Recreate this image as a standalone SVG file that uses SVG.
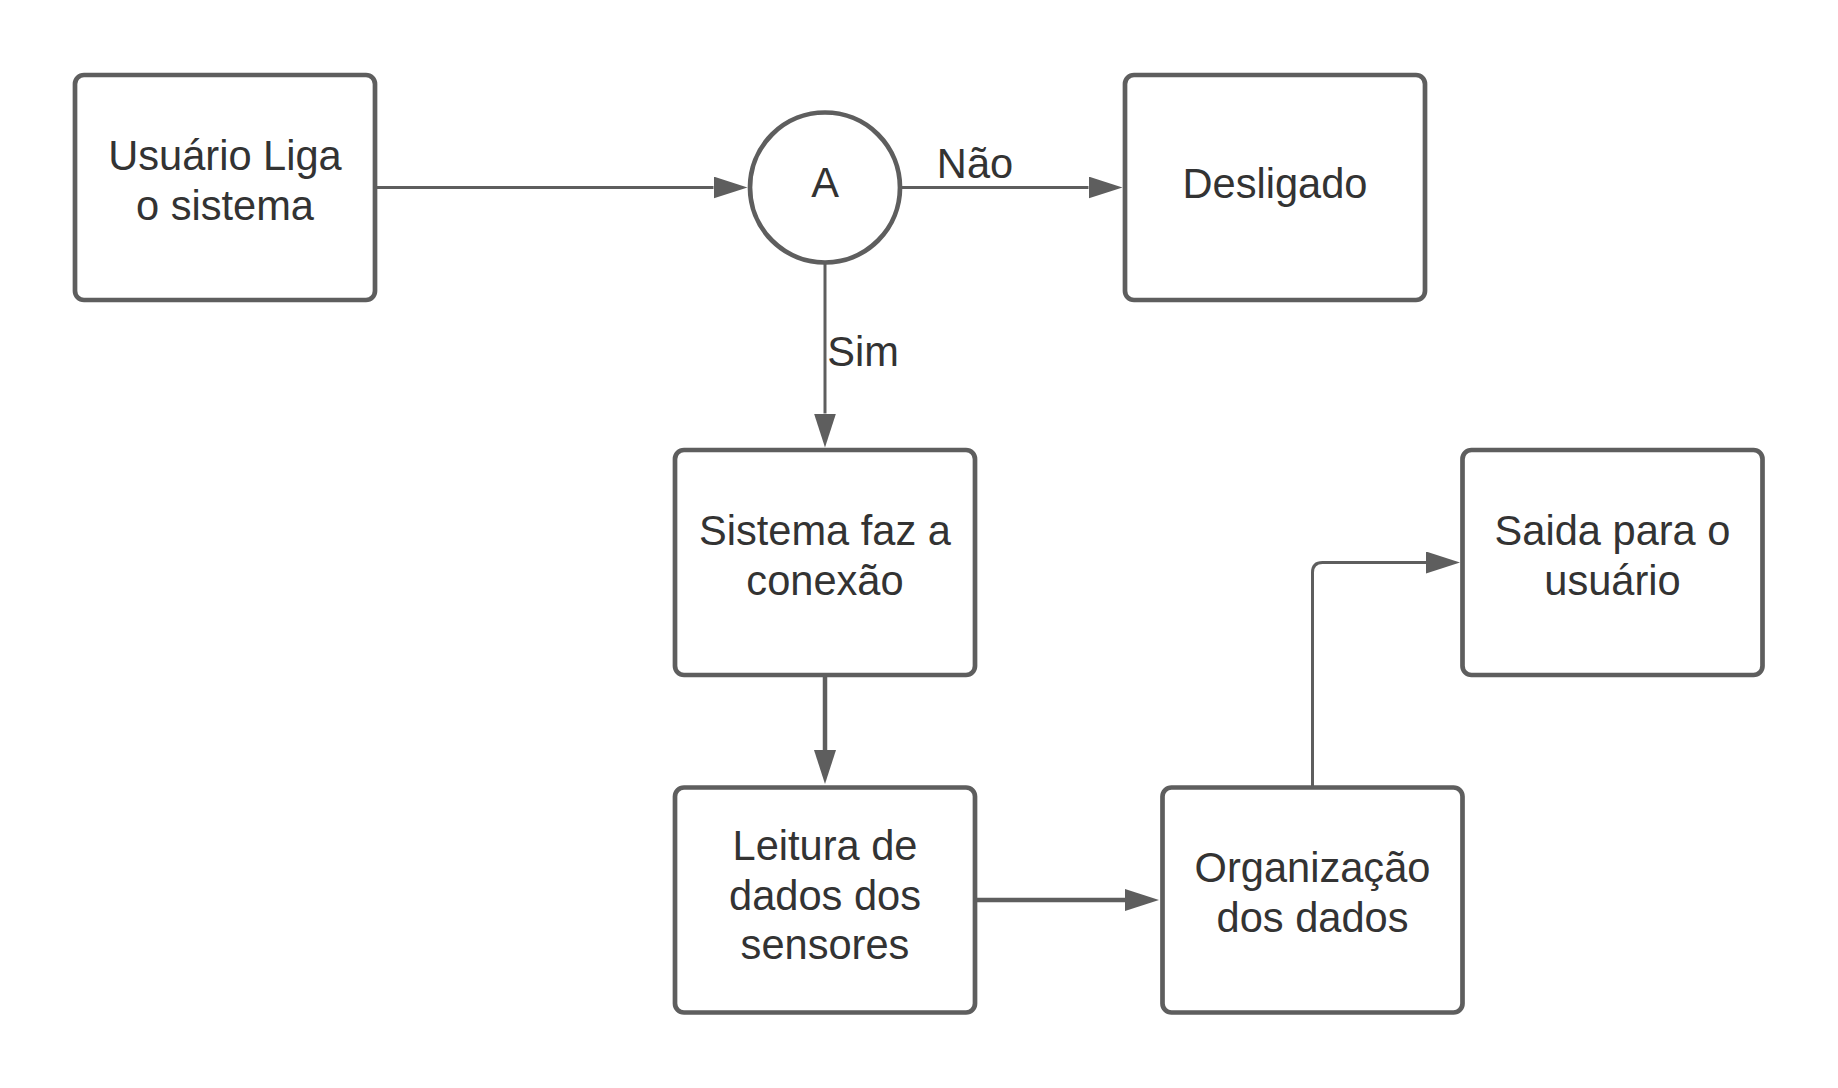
<svg xmlns="http://www.w3.org/2000/svg" width="1838" height="1088" viewBox="0 0 1838 1088">
  <style>
    .box { fill: #ffffff; stroke: #5e5e5e; stroke-width: 4.7; }
    .lbl { font-family: "Liberation Sans", Arial, sans-serif; font-size: 41.6px; fill: #333333; text-anchor: middle; }
    .edge { fill: none; stroke: #5e5e5e; stroke-width: 3; }
    .thick { stroke-width: 4.5; }
  </style>
  <defs>
    <marker id="arrow" markerUnits="userSpaceOnUse" markerWidth="36" markerHeight="24" refX="0" refY="11" orient="auto">
      <path d="M0,0 L34,11 L0,22 Z" fill="#5e5e5e"/>
    </marker>
  </defs>
  <rect width="1838" height="1088" fill="#ffffff"/>

  <g id="connectors">
    <path class="edge" d="M375,187.5 H713.5" marker-end="url(#arrow)"/>
    <path class="edge" d="M900,187.5 H1088.5" marker-end="url(#arrow)"/>
    <path class="edge" d="M825,262.5 V413.5" marker-end="url(#arrow)"/>
    <path class="edge thick" d="M825,675 V750" marker-end="url(#arrow)"/>
    <path class="edge thick" d="M975,900 H1125" marker-end="url(#arrow)"/>
    <path class="edge" d="M1312.5,787.5 V572.5 Q1312.5,562.5 1322.5,562.5 H1426" marker-end="url(#arrow)"/>
    <text class="lbl" x="975" y="178">Não</text>
    <text class="lbl" x="863" y="366">Sim</text>
  </g>

  <g id="node-usuario">
    <rect class="box" x="75" y="75" width="300" height="225" rx="9"/>
    <text class="lbl" x="225" y="170">Usuário Liga</text>
    <text class="lbl" x="225" y="219.5">o sistema</text>
  </g>

  <g id="node-a">
    <circle class="box" cx="825" cy="187.5" r="75"/>
    <text class="lbl" x="825" y="196.5">A</text>
  </g>

  <g id="node-desligado">
    <rect class="box" x="1125" y="75" width="300" height="225" rx="9"/>
    <text class="lbl" x="1275" y="197.5">Desligado</text>
  </g>

  <g id="node-sistema">
    <rect class="box" x="675" y="450" width="300" height="225" rx="9"/>
    <text class="lbl" x="825" y="545">Sistema faz a</text>
    <text class="lbl" x="825" y="594.5">conexão</text>
  </g>

  <g id="node-leitura">
    <rect class="box" x="675" y="787.5" width="300" height="225" rx="9"/>
    <text class="lbl" x="825" y="860">Leitura de</text>
    <text class="lbl" x="825" y="909.5">dados dos</text>
    <text class="lbl" x="825" y="959">sensores</text>
  </g>

  <g id="node-organizacao">
    <rect class="box" x="1162.5" y="787.5" width="300" height="225" rx="9"/>
    <text class="lbl" x="1312.5" y="882">Organização</text>
    <text class="lbl" x="1312.5" y="931.5">dos dados</text>
  </g>

  <g id="node-saida">
    <rect class="box" x="1462.5" y="450" width="300" height="225" rx="9"/>
    <text class="lbl" x="1612.5" y="545">Saida para o</text>
    <text class="lbl" x="1612.5" y="594.5">usuário</text>
  </g>
</svg>
